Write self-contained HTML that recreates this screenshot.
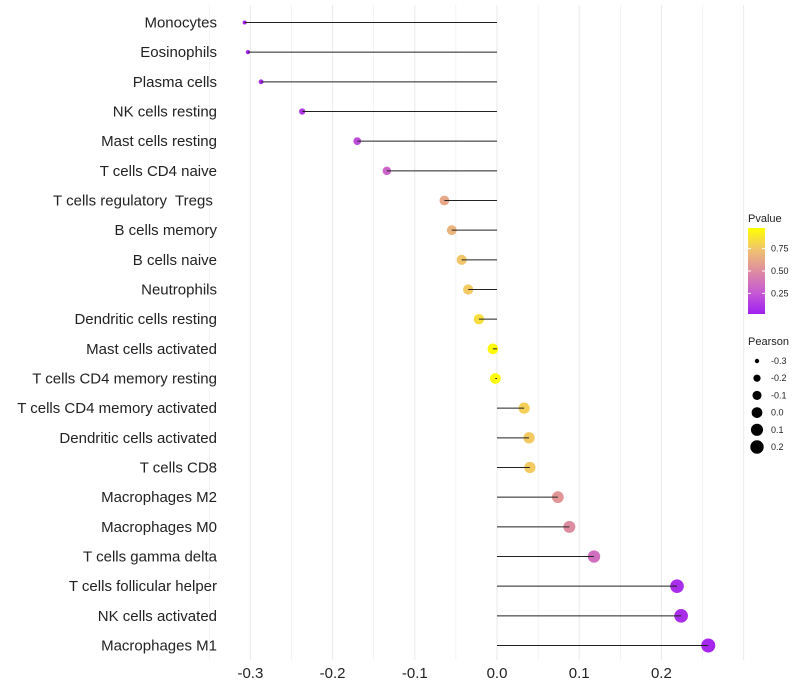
<!DOCTYPE html>
<html><head><meta charset="utf-8"><style>
body{margin:0;background:#fff;font-family:"Liberation Sans",sans-serif}
svg{display:block}
text{white-space:pre}
</style></head><body>
<svg id="c" width="800" height="700"></svg>
<script>
const cells=["Monocytes","Eosinophils","Plasma cells","NK cells resting","Mast cells resting","T cells CD4 naive","T cells regulatory  Tregs ","B cells memory","B cells naive","Neutrophils","Dendritic cells resting","Mast cells activated","T cells CD4 memory resting","T cells CD4 memory activated","Dendritic cells activated","T cells CD8","Macrophages M2","Macrophages M0","T cells gamma delta","T cells follicular helper","NK cells activated","Macrophages M1"];
const pearson=[-0.307,-0.303,-0.287,-0.237,-0.170,-0.134,-0.064,-0.055,-0.043,-0.035,-0.022,-0.005,-0.002,0.033,0.039,0.040,0.074,0.088,0.118,0.219,0.224,0.257];
const pvalue=[0.02,0.03,0.05,0.1,0.2,0.3,0.62,0.68,0.76,0.78,0.86,0.98,0.99,0.8,0.78,0.78,0.55,0.5,0.35,0.06,0.06,0.03];
const xTicks=[-0.3,-0.2,-0.1,0.0,0.1,0.2];
const xTickLabels=["-0.3","-0.2","-0.1","0.0","0.1","0.2"];
const pTicks=[0.25,0.5,0.75];
const sizeTicks=[-0.3,-0.2,-0.1,0.0,0.1,0.2];
const sizeTickLabels=["-0.3","-0.2","-0.1","0.0","0.1","0.2"];

const svg=document.getElementById('c');
const NS="http://www.w3.org/2000/svg";
function mk(t,a){const e=document.createElementNS(NS,t);for(const k in a)e.setAttribute(k,a[k]);svg.appendChild(e);return e;}
const x=v=>497+v*822;
const y=i=>22.5+i*(623/(cells.length-1));
const r=v=>Math.sqrt(Math.max(1,4+80*(v+0.31)));
const stops=[[0,[160,32,240]],[0.25,[198,90,212]],[0.5,[222,140,160]],[0.75,[240,195,110]],[1,[255,255,0]]];
function col(p){for(let i=1;i<stops.length;i++){if(p<=stops[i][0]){const a=stops[i-1],b=stops[i];const t=(p-a[0])/(b[0]-a[0]);const c=a[1].map((v,j)=>Math.round(v+(b[1][j]-v)*t));return `rgb(${c})`;}}return 'rgb(255,255,0)';}
for(let g=-0.35;g<=0.30001;g+=0.05){const gl=mk('line',{x1:x(g),x2:x(g),y1:5,y2:660,stroke:'#ebebeb','stroke-width':Math.abs(Math.round(g*20)%2)?0.6:1.1});

}
xTicks.forEach((t,i)=>{const tx=mk('text',{x:x(t),y:678,'text-anchor':'middle','font-size':15,fill:'#222'});tx.textContent=xTickLabels[i];

});
cells.forEach((c,i)=>{
const lb=mk('text',{x:217,y:y(i)+5,'text-anchor':'end','font-size':15,fill:'#222'});lb.textContent=c;


const pt=mk('circle',{cx:x(pearson[i]),cy:y(i),r:r(pearson[i]),fill:col(pvalue[i])});


const ln=mk('line',{x1:x(0),x2:x(pearson[i]),y1:y(i),y2:y(i),stroke:'#222','stroke-width':1});


});
const lt=mk('text',{x:748,y:222,'font-size':11,fill:'#222'});lt.textContent='Pvalue';


const defs=mk('defs',{});const lg=document.createElementNS(NS,'linearGradient');lg.setAttribute('id','g');lg.setAttribute('x1',0);lg.setAttribute('y1',1);lg.setAttribute('x2',0);lg.setAttribute('y2',0);defs.appendChild(lg);
stops.forEach(s=>{const st=document.createElementNS(NS,'stop');st.setAttribute('offset',s[0]);st.setAttribute('stop-color',col(s[0]));lg.appendChild(st);});
const bar=mk('rect',{x:748,y:228,width:17,height:86,fill:'url(#g)'});


const py=p=>314-(p-0.02)/0.96*86;
pTicks.forEach(p=>{mk('line',{x1:748,x2:751,y1:py(p),y2:py(p),stroke:'#fff'});mk('line',{x1:762,x2:765,y1:py(p),y2:py(p),stroke:'#fff'});
const t=mk('text',{x:771,y:py(p)+3,'font-size':9,fill:'#222'});t.textContent=p.toFixed(2);

});
const st2=mk('text',{x:748,y:345,'font-size':11,fill:'#222'});st2.textContent='Pearson';


sizeTicks.forEach((s,i)=>{const yy=361+i*17.2;const c=mk('circle',{cx:757,cy:yy,r:r(s),fill:'#000'});


const t=mk('text',{x:771,y:yy+3,'font-size':9,fill:'#222'});t.textContent=sizeTickLabels[i];

});
</script>
</body></html>
